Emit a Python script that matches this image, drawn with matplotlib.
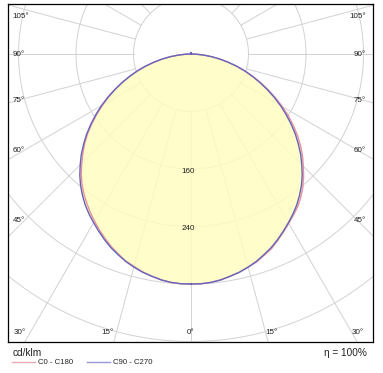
import numpy as np
import matplotlib
matplotlib.use('Agg')
import matplotlib.pyplot as plt

plt.rcParams['font.family'] = ['Liberation Sans', 'DejaVu Sans']

# luminous intensity, cd/klm
gamma = [0, 2.5, 5, 7.5, 10, 12.5, 15, 17.5, 20, 22.5, 25, 27.5, 30, 32.5, 35, 37.5, 40, 42.5,
         45, 47.5, 50, 52.5, 55, 57.5, 60, 62.5, 65, 67.5, 70, 72.5, 75, 77.5, 80, 82.5, 85, 87.5,
         90, 95, 100, 105, 110, 115, 120, 125, 130, 135, 140, 145, 150, 155, 160, 165, 170, 175, 180]
c0 = [320, 320, 319, 317, 314, 311, 307, 303.5, 298, 293, 286, 279, 272, 265.5, 259, 251, 242, 232,
      221, 210.5, 199, 187, 174, 161, 147, 133, 119, 105.5, 92, 79, 66, 53, 41, 29.5, 18, 8,
      2, 0, 0, 0, 0, 0, 0, 0, 0, 0, 0, 0, 0, 0, 0, 0, 0, 0, 2]
c180 = [320, 320, 319, 317, 314, 310.5, 306, 302, 296, 290, 283, 276, 268.5, 261, 253, 245, 236, 226,
        215, 204, 193, 181, 168, 155, 142, 129, 116, 103, 90, 77.5, 65, 52.5, 41, 29.5, 18, 8,
        2, 0, 0, 0, 0, 0, 0, 0, 0, 0, 0, 0, 0, 0, 0, 0, 0, 0, 2]
c90 = [320, 320, 319, 317, 314, 311, 307, 302.5, 297, 291.5, 285, 278, 271, 264, 256.5, 248, 239, 229,
       218, 207, 195, 183, 170, 157, 144, 130.5, 117, 104, 91, 78.5, 66, 53, 41, 29.5, 18, 8,
       2, 0, 0, 0, 0, 0, 0, 0, 0, 0, 0, 0, 0, 0, 0, 0, 0, 0, 2]
c270 = [320, 320, 319, 317, 314, 311, 307, 302.5, 297, 291.5, 285, 278, 271, 264, 256.5, 248, 239, 229,
        218, 207, 195, 183, 170, 157, 144, 130.5, 117, 104, 91, 78.5, 66, 53, 41, 29.5, 18, 8,
        2, 0, 0, 0, 0, 0, 0, 0, 0, 0, 0, 0, 0, 0, 0, 0, 0, 0, 2]

rings = [80, 160, 240, 320, 400, 480]
ring_labels = [160, 240]
unit = 'cd/klm'
eta_text = '\u03b7 = 100%'
names = ['C0 - C180', 'C90 - C270']

col_a = '#E8929E'
col_b = '#6464BC'
fill_col = '#FFFDC0'
grid_col = '#D2D2D2'
txt_col = '#222222'


def half_curve(vals, side):
    g = np.radians(gamma)
    v = np.array(vals, dtype=float)
    return side * v * np.sin(g), -v * np.cos(g)


def closed(right, left):
    xr, yr = half_curve(right, 1)
    xl, yl = half_curve(left, -1)
    return np.r_[xr, xl[::-1]], np.r_[yr, yl[::-1]]


fig = plt.figure(figsize=(3.83, 3.73), dpi=100)
W, H = 383, 373
box = (8, 4, 373, 342)   # left, top, right, bottom in pixels
cx, cy = 191, 54          # origin in pixels
scale = 57.5 / 80         # px per cd/klm

ax = fig.add_axes([box[0] / W, (H - box[3]) / H, (box[2] - box[0]) / W, (box[3] - box[1]) / H])
ax.set_xlim((box[0] - cx) / scale, (box[2] - cx) / scale)
ax.set_ylim(-(box[3] - cy) / scale, (cy - box[1]) / scale)
ax.set_xticks([])
ax.set_yticks([])
for s in ax.spines.values():
    s.set_color('black')
    s.set_linewidth(0.9)

# grid
t = np.linspace(0, 2 * np.pi, 400)
for r in rings:
    ax.plot(r * np.cos(t), r * np.sin(t), color=grid_col, lw=0.7, zorder=1)
for a in range(0, 360, 15):
    ar = np.radians(a)
    ax.plot([80 * np.sin(ar), 800 * np.sin(ar)], [-80 * np.cos(ar), -800 * np.cos(ar)],
            color=grid_col, lw=0.7, zorder=1)

# envelope fill
env_r = np.maximum(c0, c90)
env_l = np.maximum(c180, c270)
fx, fy = closed(env_r, env_l)
ax.fill(fx, fy, color=fill_col, alpha=0.85, lw=0, zorder=2)

xa, ya = closed(c0, c180)
ax.plot(xa, ya, color=col_a, lw=1.0, zorder=3)
xb, yb = closed(c90, c270)
ax.plot(xb, yb, color=col_b, lw=1.0, zorder=4)

for v in ring_labels:
    ax.text(-4, -v - 2, str(v), ha='center', va='center_baseline', fontsize=5.8, color=txt_col, zorder=5)

# overlay for labels in pixel coordinates
ov = fig.add_axes([0, 0, 1, 1], facecolor='none')
ov.set_xlim(0, W)
ov.set_ylim(H, 0)
ov.axis('off')

side_labels = ['105°', '90°', '75°', '60°', '45°']
side_y = [15, 54, 99, 150, 220]
for lab, y in zip(side_labels, side_y):
    ov.text(12.5, y, lab, ha='left', va='center_baseline', fontsize=5.8, color=txt_col)
    ov.text(366, y, lab, ha='right', va='center_baseline', fontsize=5.8, color=txt_col)

bottom_labels = ['30°', '15°', '0°', '15°', '30°']
bottom_x = [20, 108, 191, 272, 358]
for lab, x in zip(bottom_labels, bottom_x):
    ov.text(x, 332, lab, ha='center', va='center_baseline', fontsize=5.8, color=txt_col)

ov.text(12.5, 352, unit, ha='left', va='center_baseline', fontsize=7.3, color=txt_col)
ov.text(367, 352, eta_text, ha='right', va='center_baseline', fontsize=7.2, color=txt_col)

ov.plot([12, 35], [362, 362], color='#E8AEB4', lw=1.0)
ov.text(38, 362, names[0], ha='left', va='center_baseline', fontsize=5.6, color=txt_col)
ov.plot([87, 110], [362, 362], color='#9898D4', lw=1.0)
ov.text(113, 362, names[1], ha='left', va='center_baseline', fontsize=5.6, color=txt_col)

fig.savefig('out.png', dpi=100)
